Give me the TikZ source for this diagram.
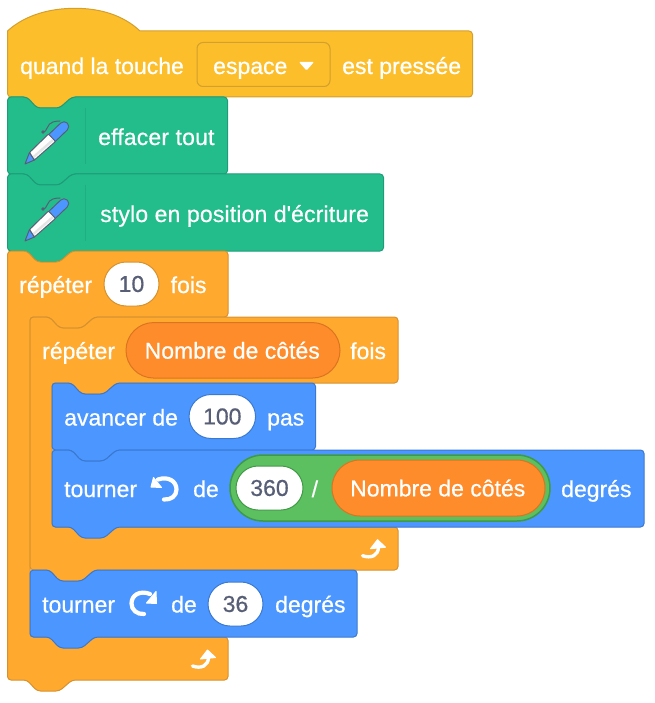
\documentclass[tikz,border=0pt]{standalone}
\usepackage{fontspec}
\setmainfont[FakeBold=0.6]{Liberation Sans}
\usetikzlibrary{shapes.misc}
\definecolor{hatfill}{HTML}{FDBE2B}
\definecolor{hatline}{HTML}{D39F2E}
\definecolor{penfill}{HTML}{23BD8B}
\definecolor{penline}{HTML}{1E9C78}
\definecolor{ctlfill}{HTML}{FFA92F}
\definecolor{ctlline}{HTML}{D6922E}
\definecolor{motfill}{HTML}{4C97FF}
\definecolor{motline}{HTML}{3B78CF}
\definecolor{varfill}{HTML}{FF8C2B}
\definecolor{varline}{HTML}{DB7421}
\definecolor{opfill}{HTML}{5CBF60}
\definecolor{opline}{HTML}{3F9A45}
\definecolor{numtext}{HTML}{575E75}
\tikzset{
  every node/.style={font=\fontsize{23}{27}\selectfont},
  lbl/.style={anchor=base west,text=white,inner sep=0pt},
  hatb/.style={draw=hatline,fill=hatfill,line width=1pt},
  penb/.style={draw=penline,fill=penfill,line width=1pt},
  ctlb/.style={draw=ctlline,fill=ctlfill,line width=1pt},
  motb/.style={draw=motline,fill=motfill,line width=1pt},
  pillbase/.style={rounded rectangle,inner sep=0pt,line width=1pt},
  numpill/.style={pillbase,fill=white,text=numtext},
  varpill/.style={pillbase,draw=varline,fill=varfill,text=white},
  oppill/.style={pillbase,draw=opline,fill=opfill,line width=1.5pt},
  ddbox/.style={draw=hatline,fill=hatfill,rounded corners=6pt,inner sep=0pt,line width=1pt,text=white},
  ico/.style={white,line width=4.6pt,line cap=round},
}
\newcommand{\lowered}[1]{\raisebox{-1.5pt}{#1}}
\newcommand{\spaced}[1]{{\addfontfeature{LetterSpace=0.7}#1}}
% x1 x2 y1 y2
\newcommand{\stackblock}[5]{%
  \draw[#1,rounded corners=3.5pt] (#2,{#4+10}) -- (#2,#4) -- ({#2+19.5},#4) -- ({#2+29.5},{#4+11}) -- ({#2+52},{#4+11}) -- ({#2+64.5},#4)
    -- (#3,#4) -- (#3,#5) -- ({#2+64.5},#5) -- ({#2+52},{#5+11}) -- ({#2+29.5},{#5+11}) -- ({#2+19.5},#5) -- (#2,#5) -- cycle;}
% style x1 x2 y1 armbottom xinner bartop bottom
\newcommand{\cblock}[8]{%
  \draw[#1,rounded corners=3.5pt] (#2,{#4+10}) -- (#2,#4) -- ({#2+19.5},#4) -- ({#2+29.5},{#4+11}) -- ({#2+52},{#4+11}) -- ({#2+64.5},#4)
    -- (#3,#4) -- (#3,#5) -- ({#6+64.5},#5) -- ({#6+52},{#5+11}) -- ({#6+29.5},{#5+11}) -- ({#6+19.5},#5) -- (#6,#5) -- (#6,#7) -- (#3,#7) -- (#3,#8)
    -- ({#2+64.5},#8) -- ({#2+52},{#8+11}) -- ({#2+29.5},{#8+11}) -- ({#2+19.5},#8) -- (#2,#8) -- cycle;}
\newcommand{\penicon}[1]{%
  \begin{scope}[yshift=-#1pt]
    \draw[numtext,line width=1pt,line cap=round] (43,132) .. controls (47,133) and (47,123) .. (53,122) .. controls (56,121) and (58,121) .. (60,121);
    \fill[numtext] (43,132) circle (1.8);
    \draw[numtext,line width=10.5pt,line cap=round] (52,138) -- (64,126.5);
    \draw[motfill,line width=8.3pt,line cap=round] (52,138) -- (64,126.5);
    \draw[numtext,line width=1pt,line join=round,fill=motfill] (25,164) -- (29.5,152.5) -- (34.5,160) -- cycle;
    \draw[numtext,line width=1pt,line join=round,fill=white,rounded corners=1pt] (29.5,152.5) -- (48.5,134) -- (55.5,141.5) -- (34.5,160) -- cycle;
    \draw[black!10,line width=2.4pt] (33.5,157) -- (53,140);
    \draw[penline!45!penfill,line width=1pt] (85,108) -- (85,164);
  \end{scope}}
\newcommand{\loopicon}[2]{%
  \begin{scope}[shift={(#1pt,-#2pt)}]
    \draw[ico,line width=3.4pt] (192.5,666) .. controls (201,669) and (208.5,666) .. (208.5,657);
    \fill[white,line join=round,draw=white,line width=1pt] (207.5,650) -- (200.5,659) -- (215.5,657.5) -- cycle;
  \end{scope}}
\begin{document}
\begin{tikzpicture}[x=1pt,y=-1pt]
\useasboundingbox (0,0) rectangle (654,703);
% hat
\draw[hatb] (7.5,31) .. controls (25,15) and (50,8.3) .. (75,8.3) .. controls (100,8.3) and (123,15) .. (140,31)
  [rounded corners=3.5pt] -- (472.5,31) -- (472.5,97) -- (72,97) -- (59.5,108) -- (37,108) -- (27,97) -- (7.5,97) -- (7.5,31);
\node[lbl] (t1) at (20,74) {quand la touche};
\node[ddbox,minimum width=133pt,minimum height=44pt] (dd) at (263.5,64.5) {};
\node[lbl] (t2) at (213,74) {espace};
\fill[white,rounded corners=1pt] (299,62) -- (314,62) -- (306.5,70.5) -- cycle;
\node[lbl] (t3) at (342,74) {est pressée};
% pen blocks
\stackblock{penb}{7.5}{227.5}{97}{174}
\penicon{0}
\node[lbl] (t4) at (98,145) {\spaced{effacer tout}};
\stackblock{penb}{7.5}{383.5}{174}{251}
\penicon{77}
\node[lbl] (t5) at (100,222) {\spaced{stylo en position d\textquotesingle écriture}};
% outer repeat
\cblock{ctlb}{7.5}{228}{251}{317}{30}{637}{680}
\node[lbl] (t6) at (19,293) {répéter};
\node[numpill,draw=ctlline,minimum width=55pt,minimum height=44pt] (n10) at (131.5,284) {\lowered{10}};
\node[lbl] (t7) at (170.5,293) {fois};
% inner repeat
\cblock{ctlb}{30}{398}{317}{383}{52}{527}{570}
\node[lbl] (t8) at (42,359) {répéter};
\node[varpill,minimum width=214pt,minimum height=55.5pt] (v1) at (233,350.3) {\hspace{-1.5pt}\raisebox{-1pt}{Nombre de côtés}};
\node[lbl] (t9) at (350,359) {fois};
% avancer
\stackblock{motb}{52}{315.5}{383}{450}
\node[lbl] (t10) at (64,425.5) {avancer de};
\node[numpill,draw=motline,minimum width=66.5pt,minimum height=44pt] (n100) at (222.3,416.5) {\lowered{100}};
\node[lbl] (t11) at (267,425.5) {pas};
% tourner ccw
\stackblock{motb}{52}{644}{450}{527}
\node[lbl] (t12) at (64,497) {tourner};
\draw[ico,line width=4.2pt] (158,479.5) .. controls (168,476) and (176.5,481) .. (176.5,489.5) .. controls (176.5,496) and (171,500) .. (164,499.5);
\fill[white,draw=white,line width=1pt,line join=round] (153.5,477.5) -- (151,487) -- (161.5,487.5) -- cycle;
\node[lbl] (t13) at (193,497) {de};
\node[oppill,minimum width=320pt,minimum height=66pt] (op) at (390,488) {};
\node[numpill,draw=opline,minimum width=67pt,minimum height=44pt] (n360) at (269.5,488) {\lowered{360}};
\node[lbl] (t14) at (311.5,497) {/};
\node[varpill,minimum width=213pt,minimum height=56pt] (v2) at (438.5,488) {\hspace{-1.5pt}\raisebox{-1pt}{Nombre de côtés}};
\node[lbl] (t15) at (561,497) {degrés};
\loopicon{170}{-110.3}
% tourner cw
\stackblock{motb}{30}{357}{570}{637}
\node[lbl] (t16) at (42,612.5) {tourner};
\draw[ico,line width=4.2pt] (150,594) .. controls (140,590) and (131.5,595) .. (131.5,603.5) .. controls (131.5,610) and (137,614.5) .. (144,614);
\fill[white,draw=white,line width=1pt,line join=round] (156,591.5) -- (156.5,603.5) -- (146.5,603) -- cycle;
\node[lbl] (t17) at (171,612.5) {de};
\node[numpill,draw=motline,minimum width=55pt,minimum height=44pt] (n36) at (235.5,604) {\lowered{36}};
\node[lbl] (t18) at (275,612.5) {degrés};
\loopicon{0}{0}
\end{tikzpicture}
\end{document}
